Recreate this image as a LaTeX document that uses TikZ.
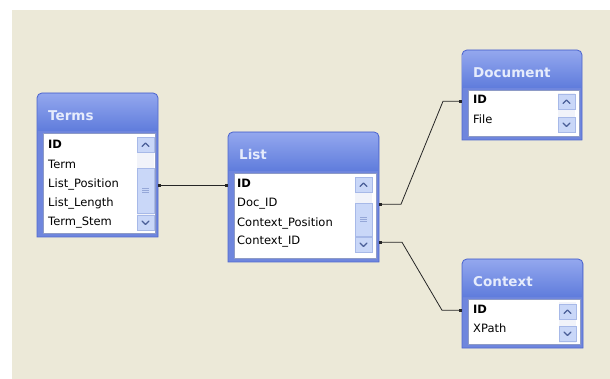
\documentclass[tikz,border=0pt]{standalone}
\usepackage{fontspec}
\setmainfont{DejaVu Sans}
\usetikzlibrary{arrows.meta,fit}

\definecolor{desk}{HTML}{ECE9D8}
\definecolor{frameline}{HTML}{4F67CF}
\definecolor{framefill}{HTML}{6F86DD}
\definecolor{titletop}{HTML}{93A7EE}
\definecolor{titlebot}{HTML}{5F7CDC}
\definecolor{titlefg}{HTML}{E6ECFC}
\definecolor{listline}{HTML}{8E9BC6}
\definecolor{btnfill}{HTML}{C9D7F8}
\definecolor{btnline}{HTML}{A7B9E8}
\definecolor{chevron}{HTML}{4B5F98}
\definecolor{trackfill}{HTML}{F1F3FA}

\tikzset{
  rowtext/.style={anchor=base west, inner sep=0pt, text height=8pt, text depth=2.5pt,
                  font=\fontsize{11.5}{13}\selectfont, text=black},
  keytext/.style={rowtext, font=\fontsize{11.5}{13}\selectfont\bfseries},
  titletext/.style={anchor=base west, inner sep=0pt, font=\fontsize{13.5}{16}\selectfont\bfseries, text=titlefg},
  tableframe/.style={inner sep=0pt, outer sep=0pt},
  btn/.style={fill=btnfill, draw=btnline, line width=0.6pt},
  chev/.style={draw=chevron, line width=1.3pt, line cap=round, line join=round},
  link/.style={draw=black!85, line width=0.8pt,
               {Square[length=3pt,width=3pt]}-{Square[length=3pt,width=3pt]}},
}

% table window: name, left, top, right, bottom, bottom of title bar, title
\newcommand\dbtable[7]{%
  \filldraw[fill=framefill, draw=frameline, line width=0.9pt]
    (#2,#5) [rounded corners=5pt] -- (#2,#3) -- (#4,#3) [sharp corners] -- (#4,#5) -- cycle;
  \shade[top color=titletop, bottom color=titlebot]
    (#2+0.6,#6) [rounded corners=4.5pt] -- (#2+0.6,#3+0.6) -- (#4-0.6,#3+0.6) [sharp corners] -- (#4-0.6,#6) -- cycle;
  \filldraw[fill=white, draw=listline, line width=0.6pt] (#2+6,#6+2) rectangle (#4-3,#5-4);
  \node[tableframe, fit={(#2,#3) (#4,#5)}] (#1) {};
  \node[titletext] (#1-title) at (#2+11,#3+28) {#7};
}

% scroll bar pieces: left x, top y
\newcommand\sbup[2]{%
  \filldraw[btn] (#1,#2) rectangle ++(17,15);
  \draw[chev] (#1+5,#2+9.5) -- (#1+8.5,#2+6) -- (#1+12,#2+9.5);}
\newcommand\sbdown[2]{%
  \filldraw[btn] (#1,#2) rectangle ++(17,15);
  \draw[chev] (#1+5,#2+6) -- (#1+8.5,#2+9.5) -- (#1+12,#2+6);}
% thumb: left x, top y, bottom y
\newcommand\sbthumb[3]{%
  \filldraw[btn] (#1,#2) rectangle (#1+17,#3);
  \foreach \g in {-2,0,2}
    \draw[btnline!80!chevron, line width=0.5pt] (#1+5,{(#2+#3)/2+\g}) -- (#1+12,{(#2+#3)/2+\g});}

\begin{document}
\begin{tikzpicture}[x=1pt,y=-1pt]
  % desk background
  \useasboundingbox (0,0) rectangle (610,379);
  \fill[white] (0,0) rectangle (610,379);
  \fill[desk] (12,10) rectangle (610,379);

  % ---- Terms
  \dbtable{terms}{37}{93}{158}{237}{131}{Terms}
  \fill[trackfill] (137,137) rectangle (154,231);
  \sbup{137}{137}
  \sbthumb{137}{168}{213}
  \sbdown{137}{215}
  \node[keytext] (terms-id)   at (48,149) {ID};
  \node[rowtext] (terms-term) at (48,169) {Term};
  \node[rowtext] (terms-lpos) at (48,188) {List\_Position};
  \node[rowtext] (terms-llen) at (48,207) {List\_Length};
  \node[rowtext] (terms-stem) at (48,226) {Term\_Stem};

  % ---- List
  \dbtable{list}{228}{132}{379}{262}{171}{List}
  \fill[trackfill] (355,177) rectangle (372,252);
  \sbup{355}{177}
  \sbthumb{355}{203}{236}
  \sbdown{355}{237}
  \node[keytext] (list-id)    at (237,188) {ID};
  \node[rowtext] (list-docid) at (237,207) {Doc\_ID};
  \node[rowtext] (list-cpos)  at (237,227) {Context\_Position};
  \node[rowtext] (list-ctxid) at (237,245) {Context\_ID};

  % ---- Document
  \dbtable{document}{462}{50}{582}{140}{88}{Document}
  \fill[trackfill] (558,93) rectangle (575,133);
  \sbup{558}{94}
  \sbdown{558}{117}
  \node[keytext] (doc-id)   at (473,104) {ID};
  \node[rowtext] (doc-file) at (473,124) {File};

  % ---- Context
  \dbtable{context}{462}{259}{583}{348}{297}{Context}
  \fill[trackfill] (559,302) rectangle (576,343);
  \sbup{559}{304}
  \sbdown{559}{326}
  \node[keytext] (ctx-id)    at (473,313) {ID};
  \node[rowtext] (ctx-xpath) at (473,332) {XPath};

  % ---- relationships
  \draw[link] (terms.east |- terms-lpos) -- (list.west |- list-id);
  \draw[link] (list.east |- list-docid) -- ++(22,0)
              -- ([xshift=-19pt]document.west |- doc-id) -- (document.west |- doc-id);
  \draw[link] (list.east |- list-ctxid) -- ++(23,0)
              -- ([xshift=-20pt]context.west |- ctx-id) -- (context.west |- ctx-id);
\end{tikzpicture}
\end{document}
